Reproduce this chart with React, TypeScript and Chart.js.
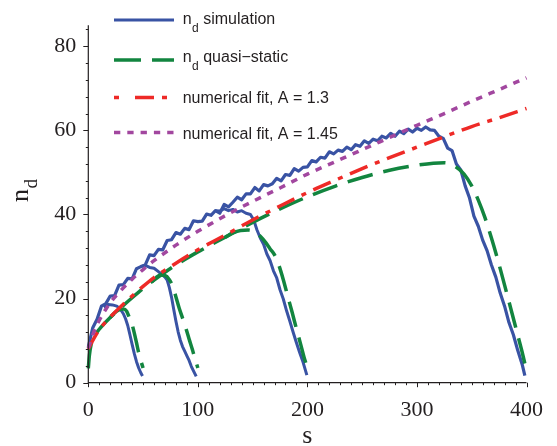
import React, { useEffect, useRef } from 'react';
import { Chart, registerables } from 'chart.js';

Chart.register(...registerables);

// ---------- axes ----------
const xTickValues = [0, 100, 200, 300, 400];
const yTickValues = [0, 20, 40, 60, 80];
const xMin = 0;
const xMax = 400;
const yMin = 0;
const yMax = 85;
const xTitle = 's';
const yTitleMain = 'n';
const yTitleSub = 'd';

// ---------- legend ----------
const legendMain = ['n', 'n', 'numerical fit, A = 1.3', 'numerical fit, A = 1.45'];
const legendSub = ['d', 'd', '', ''];
const legendRest = [' simulation', ' quasi\u2212static', '', ''];

// ---------- simulation (blue) ----------
const sim400S = [
  0, 4, 8, 12, 16, 20, 24, 28, 32, 36, 40, 44, 48, 52, 56, 60, 64, 68, 72, 76,
  80, 84, 88, 92, 96, 100, 104, 108, 112, 116, 120, 124, 128, 132, 136, 140, 144, 148, 152, 156,
  160, 164, 168, 172, 176, 180, 184, 188, 192, 196, 200, 204, 208, 212, 216, 220, 224, 228, 232, 236,
  240, 244, 248, 252, 256, 260, 264, 268, 272, 276, 280, 284, 288, 292, 296, 300, 304, 308, 312, 316,
  320, 324, 328, 332, 336, 340, 344, 348, 352, 356, 360, 364, 368, 372, 376, 380, 384, 388, 392, 396, 398.5,
];
const sim400N = [
  8.5, 13.0, 15.1, 18.2, 18.8, 20.6, 20.7, 23.2, 23.3, 24.8, 24.7, 27.1, 27.6, 28.0, 30.4, 30.2, 31.7, 31.6, 33.8, 34.0,
  35.7, 35.3, 36.7, 36.4, 38.5, 38.3, 38.4, 40.1, 39.8, 40.9, 40.3, 42.4, 41.8, 42.9, 44.1, 43.5, 44.9, 44.9, 46.4, 45.6,
  47.1, 46.8, 47.3, 48.6, 48.0, 49.5, 49.3, 50.9, 50.3, 51.2, 51.3, 52.8, 52.5, 53.6, 53.4, 54.9, 54.4, 55.3, 55.0, 56.0,
  55.4, 56.6, 56.2, 57.5, 56.9, 57.9, 57.5, 58.6, 58.2, 59.3, 58.6, 59.8, 59.2, 60.3, 59.6, 60.5, 60.0, 60.8, 60.1, 60.0,
  58.6, 58.1, 55.8, 55.2, 52.0, 50.6, 46.8, 43.9, 39.6, 37.2, 33.9, 31.4, 28.0, 25.1, 21.3, 18.2, 14.3, 11.4, 7.7, 4.4, 1.7,
];
const sim200S = [116, 120, 124, 128, 132, 136, 140, 144, 148, 151, 154, 157, 160, 163, 166, 169, 172, 175, 178, 181, 184, 187, 190, 193, 196, 199.5];
const sim200N = [40.9, 40.8, 41.4, 40.9, 41.2, 40.6, 40.9, 40.3, 40.0, 38.7, 36.3, 34.4, 32.9, 30.6, 29.0, 26.6, 24.9, 22.1, 19.9, 17.1, 14.6, 12.0, 9.5, 7.1, 4.9, 1.8];
const sim100S = [48, 52, 56, 60, 64, 67, 70, 72, 74, 76, 78, 80, 82, 84, 86, 88, 90, 92, 94, 96, 98.5];
const sim100N = [27.6, 27.9, 27.4, 27.2, 26.4, 25.8, 25.1, 24.4, 22.6, 20.3, 17.4, 14.6, 12.1, 10.1, 8.6, 7.5, 6.4, 5.3, 3.9, 2.8, 1.5];
const sim50S = [14, 18, 22, 26, 29, 32, 34, 36, 38, 40, 42, 44, 46, 48, 49.5];
const sim50N = [18.0, 18.6, 18.5, 18.2, 17.6, 16.4, 15.2, 13.6, 11.4, 9.1, 6.9, 5.0, 3.5, 2.3, 1.6];

// ---------- quasi-static (green) ----------
const qs400S = [0, 1, 2.5, 5, 10, 20, 30, 40, 50, 60, 80, 100, 125, 150, 175, 200, 225, 250, 275, 300, 315, 325, 335, 343, 350, 356, 362, 368, 374, 380, 386, 392, 396, 399.5];
const qs400N = [3.4, 6.5, 9.0, 10.8, 12.7, 15.5, 17.9, 20.2, 22.4, 24.4, 28.0, 31.1, 34.6, 38.1, 41.3, 44.2, 46.7, 48.8, 50.5, 51.7, 52.2, 52.3, 51.4, 49.6, 46.8, 43.4, 39.3, 34.4, 29.0, 23.2, 17.3, 11.3, 7.3, 3.4];
const qs200S = [125, 132, 139, 146, 152, 157, 162, 166, 170, 174, 178, 182, 186, 190, 194, 197, 200];
const qs200N = [34.6, 35.6, 36.2, 36.3, 35.8, 34.8, 33.3, 31.8, 30.4, 27.9, 24.5, 20.6, 16.8, 12.8, 9.0, 6.0, 3.6];
const qs100S = [58, 62, 66, 70, 74, 77, 80, 83, 86, 89, 92, 95, 97.5, 100];
const qs100N = [24.0, 25.0, 25.6, 25.5, 24.5, 22.9, 20.4, 17.7, 15.4, 13.0, 10.4, 7.9, 5.6, 3.5];
const qs50S = [20, 24, 28, 32, 35, 38, 40, 42, 44, 46, 48, 50];
const qs50N = [15.5, 16.6, 17.3, 17.5, 17.0, 15.1, 13.8, 11.8, 9.5, 7.1, 5.2, 3.5];

// ---------- numerical fits ----------
const fitS = [0, 5, 10, 20, 30, 40, 50, 60, 80, 100, 125, 150, 175, 200, 225, 250, 275, 300, 325, 350, 375, 400];
const fit13N = [8.0, 10.5, 12.6, 15.6, 18.2, 20.6, 22.9, 25.0, 28.4, 31.6, 35.1, 38.7, 42.0, 45.2, 48.1, 50.9, 53.5, 56.0, 58.5, 60.9, 63.0, 65.2];
const fit145N = [8.2, 12.0, 14.8, 19.0, 22.0, 24.6, 26.9, 29.0, 32.7, 36.0, 39.7, 43.1, 46.3, 49.6, 52.5, 55.4, 58.3, 61.2, 64.0, 66.9, 69.7, 72.5];

// ---------- styles ----------
const BLUE = '#3953a4';
const GREEN = '#12853f';
const RED = '#ee2a27';
const PURPLE = '#a2479f';
const INK = '#231f20';
const SERIF = '"Liberation Serif", "Times New Roman", Times, serif';
const SANS = '"Liberation Sans", Arial, Helvetica, sans-serif';

const zip = (s: number[], n: number[]) => s.map((v, i) => ({ x: v, y: n[i] }));

const line = (data: any[], color: string, width: number, dash: number[], smooth: boolean) => ({
  data,
  borderColor: color,
  backgroundColor: color,
  borderWidth: width,
  borderDash: dash,
  borderCapStyle: 'butt',
  borderJoinStyle: 'round',
  pointRadius: 0,
  pointHoverRadius: 0,
  fill: false,
  tension: 0,
  cubicInterpolationMode: smooth ? 'monotone' : 'default',
  clip: false,
});

const GREEN_DASH = [26, 11];
const RED_DASH = [19, 8, 5, 8];
const PURPLE_DASH = [6.5, 7];

const decorPlugin = {
  id: 'decor',
  afterDatasetsDraw(chart: any) {
    const { ctx, chartArea: a, scales } = chart;
    const x = scales.x;
    const y = scales.y;
    ctx.save();
    // axis lines
    ctx.strokeStyle = INK;
    ctx.lineWidth = 1.2;
    ctx.beginPath();
    ctx.moveTo(a.left, a.top);
    ctx.lineTo(a.left, a.bottom);
    ctx.lineTo(a.right, a.bottom);
    ctx.stroke();
    // ticks
    ctx.lineWidth = 1;
    ctx.beginPath();
    for (let v = yMin; v <= yMax; v += 4) {
      const py = Math.round(y.getPixelForValue(v)) + 0.5;
      const len = v % 20 === 0 ? 5 : 2.5;
      ctx.moveTo(a.left - len, py);
      ctx.lineTo(a.left, py);
    }
    for (let v = xMin; v <= xMax; v += 10) {
      const px = Math.round(x.getPixelForValue(v)) + 0.5;
      const len = v % 100 === 0 ? 4.5 : 2.5;
      ctx.moveTo(px, a.bottom);
      ctx.lineTo(px, a.bottom + len);
    }
    ctx.stroke();

    // axis titles
    ctx.fillStyle = INK;
    ctx.textBaseline = 'alphabetic';
    ctx.textAlign = 'center';
    ctx.font = '26px ' + SERIF;
    ctx.fillText(xTitle, (a.left + a.right) / 2, 443);

    ctx.save();
    ctx.translate(28, 202);
    ctx.rotate(-Math.PI / 2);
    ctx.textAlign = 'left';
    ctx.font = '26px ' + SERIF;
    ctx.fillText(yTitleMain, 0, 0);
    const nw = ctx.measureText(yTitleMain).width;
    ctx.font = '19px ' + SERIF;
    ctx.fillText(yTitleSub, nw + 0.5, 9);
    ctx.restore();

    // legend
    const lx0 = 114;
    const lx1 = 174;
    const rowsLineY = [20, 60, 97.5, 132.5];
    const rowsTextY = [23.5, 62, 103, 139];
    const colors = [BLUE, GREEN, RED, PURPLE];
    const widths = [3, 3.5, 3.5, 3.5];
    const dashes = [[], [27, 11], [5, 16, 19, 8, 5, 30], [6.3, 7]];
    for (let i = 0; i < 4; i++) {
      ctx.strokeStyle = colors[i];
      ctx.lineWidth = widths[i];
      ctx.lineCap = 'butt';
      ctx.setLineDash(dashes[i]);
      ctx.beginPath();
      ctx.moveTo(lx0, rowsLineY[i]);
      ctx.lineTo(lx1, rowsLineY[i]);
      ctx.stroke();
      ctx.setLineDash([]);

      ctx.fillStyle = INK;
      ctx.textAlign = 'left';
      let tx = 182.7;
      ctx.font = '16px ' + SANS;
      ctx.fillText(legendMain[i], tx, rowsTextY[i]);
      tx += ctx.measureText(legendMain[i]).width;
      if (legendSub[i]) {
        ctx.font = '12px ' + SANS;
        ctx.fillText(legendSub[i], tx + 0.5, rowsTextY[i] + 8);
        tx += ctx.measureText(legendSub[i]).width + 0.5;
      }
      if (legendRest[i]) {
        ctx.font = '16px ' + SANS;
        ctx.fillText(legendRest[i], tx, rowsTextY[i]);
      }
    }
    ctx.restore();
  },
};

export default function App() {
  const ref = useRef<HTMLCanvasElement | null>(null);

  useEffect(() => {
    if (!ref.current) return;
    const chart = new Chart(ref.current, {
      type: 'line',
      data: {
        datasets: [
          line(zip(fitS, fit145N), PURPLE, 3.5, PURPLE_DASH, true),
          line(zip(fitS, fit13N), RED, 3.5, RED_DASH, true),
          line(zip(qs400S, qs400N), GREEN, 3.5, GREEN_DASH, true),
          line(zip(qs200S, qs200N), GREEN, 3.5, GREEN_DASH, true),
          line(zip(qs100S, qs100N), GREEN, 3.5, GREEN_DASH, true),
          line(zip(qs50S, qs50N), GREEN, 3.5, GREEN_DASH, true),
          line(zip(sim400S, sim400N), BLUE, 3.2, [], false),
          line(zip(sim200S, sim200N), BLUE, 3, [], false),
          line(zip(sim100S, sim100N), BLUE, 3, [], false),
          line(zip(sim50S, sim50N), BLUE, 3, [], false),
        ] as any,
      },
      options: {
        animation: false,
        responsive: false,
        maintainAspectRatio: false,
        devicePixelRatio: 1,
        layout: { padding: { top: 16.4, right: 26.3, left: 0, bottom: 0 } },
        plugins: {
          legend: { display: false },
          tooltip: { enabled: false },
          title: { display: false },
        },
        scales: {
          x: {
            type: 'linear',
            min: xMin,
            max: xMax,
            grid: { display: false, drawTicks: false },
            border: { display: false },
            afterBuildTicks: (scale: any) => {
              scale.ticks = xTickValues.map((v) => ({ value: v }));
            },
            afterFit: (scale: any) => {
              scale.height = 446 - 382.7;
            },
            ticks: {
              padding: 14,
              maxRotation: 0,
              autoSkip: false,
              color: INK,
              font: { family: SERIF, size: 22 },
            },
          },
          y: {
            type: 'linear',
            min: yMin,
            max: yMax,
            grid: { display: false, drawTicks: false },
            border: { display: false },
            afterBuildTicks: (scale: any) => {
              scale.ticks = yTickValues.map((v) => ({ value: v }));
            },
            afterFit: (scale: any) => {
              scale.width = 88.3;
            },
            ticks: {
              padding: 12,
              autoSkip: false,
              color: INK,
              font: { family: SERIF, size: 22 },
            },
          },
        },
      } as any,
      plugins: [decorPlugin],
    });
    return () => chart.destroy();
  }, []);

  return (
    <div style={{ position: 'fixed', left: 0, top: 0, width: 557, height: 446, background: '#fff' }}>
      <canvas ref={ref} width={557} height={446} style={{ width: 557, height: 446, display: 'block' }} />
    </div>
  );
}
